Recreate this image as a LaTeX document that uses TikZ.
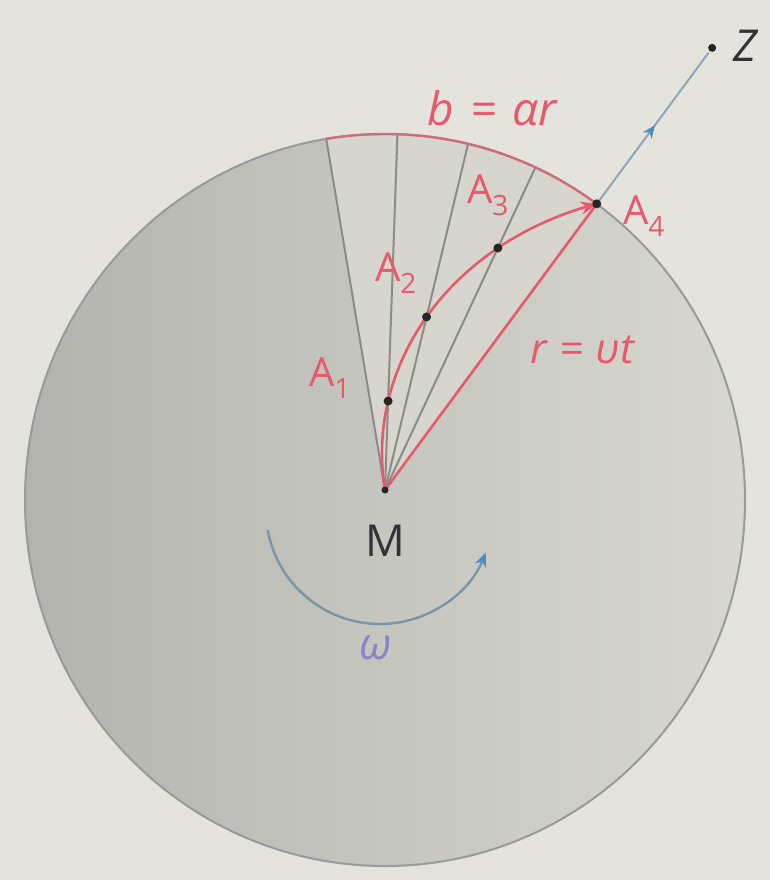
\documentclass[tikz,border=0pt]{standalone}
\usepackage{fontspec}
\setmainfont{Open Sans}
\usetikzlibrary{calc,arrows.meta,decorations.markings}
\definecolor{bg}{HTML}{E4E4DD}
\definecolor{diskL}{HTML}{B4B4AE}
\definecolor{diskR}{HTML}{D8D8D1}
\definecolor{sect}{HTML}{D6D6CE}
\definecolor{rimgray}{HTML}{9A9A98}
\definecolor{raygray}{HTML}{8A8C88}
\definecolor{redc}{HTML}{E65A6C}
\definecolor{bluec}{HTML}{4A8EC2}
\definecolor{arcblue}{HTML}{7896A4}
\definecolor{zline}{HTML}{8FA6BA}
\definecolor{omegac}{HTML}{8A84C8}
\begin{document}
\begin{tikzpicture}[x=1pt,y=-1pt,
  ray/.style={draw=raygray, line width=2pt},
  redline/.style={draw=redc, line width=2.6pt},
  lab/.style={text=redc, inner sep=0pt, font=\fontsize{40}{40}\selectfont},
  dotm/.style={circle, fill=black!85, inner sep=0pt, minimum size=9pt},
]
\fill[bg] (0,0) rectangle (770,880);
\useasboundingbox (0,0) rectangle (770,880);
\coordinate (C) at (385,500);
\coordinate (M) at (385,490);
% disk
\shade[left color=diskL, right color=diskR] (C) ellipse [x radius=360, y radius=366];
% light sector
\begin{scope}
  \clip (C) ellipse [x radius=360, y radius=366];
  \fill[sect] (M) -- ($(M)+(-99.5:700)$) -- ($(M)+(-53.5:700)$) -- cycle;
\end{scope}
\draw[rimgray, line width=2pt] (C) ellipse [x radius=360, y radius=366];
% red rim arc b
\begin{scope}
  \clip (M) -- ($(M)+(-99.5:700)$) -- ($(M)+(-53.5:700)$) -- cycle;
  \draw[redc!70!rimgray, line width=2.4pt] (C) ellipse [x radius=360, y radius=366];
\end{scope}
% ray end points and spiral points
\foreach \k in {0,...,4} {\coordinate (L\k) at ($(M)+({-(99.5-11.5*\k)}:356)$);}
\foreach \k in {1,...,4} {\coordinate (A\k) at ($(M)+({-(99.5-11.5*\k)}:{89*\k})$);}
\coordinate (Z) at ($(M)+(-53.5:550)$);
% rays
\foreach \k in {0,...,3} {\draw[ray] (M) -- (L\k);}
\draw[redline] (M) -- (A4);
% spiral
\draw[redline, -{Stealth[length=16pt,width=13pt]}] plot[domain=0:4, samples=80, smooth]
  ({385+89*\x*cos(99.5-11.5*\x)}, {490-89*\x*sin(99.5-11.5*\x)});
% line to Z
\draw[zline, line width=2pt,
  postaction={decorate, decoration={markings, mark=at position 0.52 with {\arrow{Stealth[length=13pt,width=11pt,color=bluec]}}}}]
  (A4) -- ($(Z)!6pt!(A4)$);
\node[dotm, minimum size=8pt] (Zd) at (Z) {};
% dots
\foreach \k in {1,2,3,4} {\node[dotm] (d\k) at (A\k) {};}
\node[dotm, minimum size=7pt] (Md) at (M) {};
% omega arc
\coordinate (W) at (380,510);
\draw[arcblue, line width=2.4pt, -{Stealth[length=14pt,width=12pt,color=bluec]}]
  ($(W)+(170:114)$) arc[start angle=170, end angle=22, radius=114];
% labels
\node[lab, font=\itshape\fontsize{46}{46}\selectfont] (tb) at (492,108) {b\hspace{0.35em}=\hspace{0.35em}αr};
\node[lab, font=\itshape\fontsize{42}{42}\selectfont] (tr) at (582,350) {r\hspace{0.3em}=\hspace{0.3em}υt};
\node[lab] (t1) at (330,378) {A\textsubscript{1}};
\node[lab] (t2) at (396,273) {A\textsubscript{2}};
\node[lab] (t3) at (488,195) {A\textsubscript{3}};
\node[lab] (t4) at (644,216) {A\textsubscript{4}};
\node[inner sep=0pt, text=black!80, font=\fontsize{44}{44}\selectfont] (tM) at (385,541) {M};
\node[inner sep=0pt, text=omegac, font=\itshape\fontsize{44}{44}\selectfont] (tw) at (376,648) {ω};
\node[inner sep=0pt, text=black!80, font=\itshape\fontsize{44}{44}\selectfont] (tZ) at (745,46) {Z};
\end{tikzpicture}
\end{document}
